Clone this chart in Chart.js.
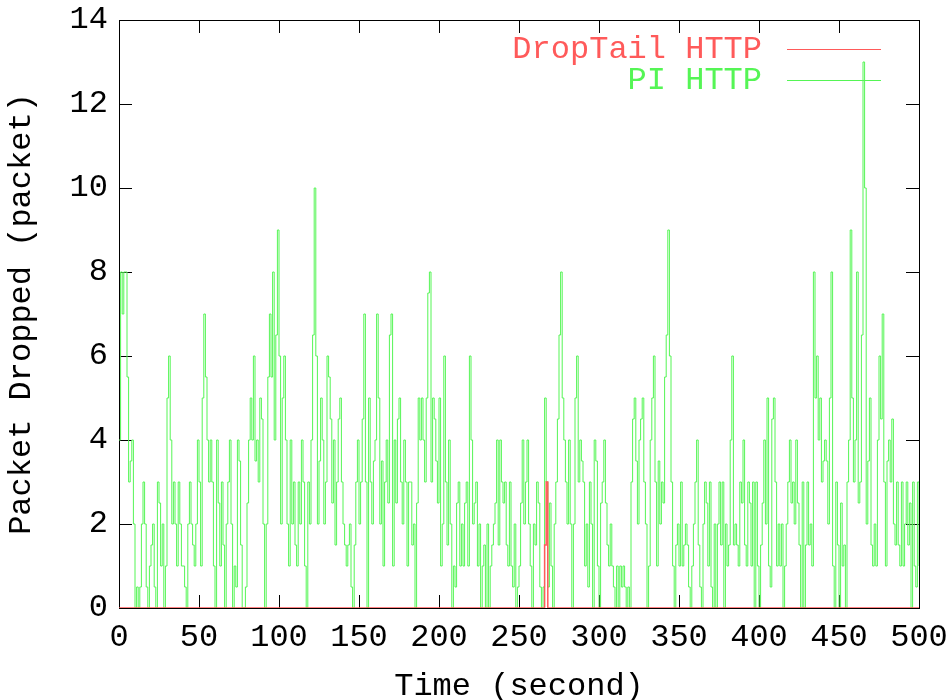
<!DOCTYPE html>
<html>
<head>
<meta charset="utf-8">
<script src="https://cdn.jsdelivr.net/npm/chart.js@4.4.1/dist/chart.umd.min.js"></script>
<style>
  html, body { margin: 0; padding: 0; background: #fff; }
</style>
</head>
<body>
<canvas id="chart" width="951" height="700"></canvas>
<script>
// PI HTTP: packets dropped, one sample per second (t = 0..500)
const piHttp = [
  4,8,7,8,8, 5.5,3,3.5,4,2, 0,0.5,0,0.5,2, 3,2,0.5,0,1, 1.5,2,0.5,0,3,2.5, 1,2,0,1, 5,6,4,2, 3,2,1,3, 2,1,1,0.5, 0,2,3, 2,1.5,1,2, 4,3,1, 5,7,5.5, 4,3,
  4,3,1,0, 4,2.5,1,3, 1.5,0,2,3,4, 2,0,1,0.5, 4,3.5,1.5,0,0, 0.5,2.5,4,5, 4,6,3.5,4, 3,5,4.5,2, 0,2,5.5,7, 5.5,8,4,6.5, 9,6,2,5, 6,4,2,1, 4,2,3,1.5, 1,3,2,4, 3,1,0,3,
  2,4,6.5,10, 6,2,3.5,5, 4,2,3,6,5.5, 4.5,2.5,4,1.5, 3,4.5,5,3, 2,1.5,1,1.5, 2,0.5,0,1.5, 3,4,2,3, 4.5,7,3,0,5, 3,2,3.5,4, 7,5,2,3.5, 1,3,4,2.5, 6.5,7,1,4, 2.5,4.5,5,3, 2,4,3,1,3,
  3,1.5,2,0, 2.5,5,4,5, 4,3,5,7.5, 8,3,5,4.5, 3.5,2.5,5,1,2, 6,3,1.5,4, 2,0,1,0.5, 2.5,3,1,2, 1,2.5,3,1, 6,4,2,2.5,3, 1,2,0,1, 1.5,0,2,0, 1,1.5,2,2.5, 4,1.5,4,3, 2.5,3,1.5,1,
  3,1,0.5,2, 0,0.5,1,2.5, 4,2,3,4,2, 1,0,2,1.5, 3,2.5,0.5,0, 0.5,5,3,0.5, 2.5,1,0,2, 3,4.5,6.5,8,5, 4,3,2,4, 2,0,2,5, 6,3,4,3.5, 3,1,2,0.5, 3,2,0,4, 3.5,1,0,2.5, 3,4,2.5,1.5,1,
  2,1,0.5,0, 1,0,1,0.5, 1,0.5,0,0.5, 0,3,4.5,5, 3.5,2,4,4.5,5, 3,2,0,1, 4,5,6,3, 1,3.5,2,3, 2.5,5.5,6.5,9, 6,3,1,0,1.5, 2,1,3,1, 1.5,2,1.5,0.5, 0,1,2,3, 4,1.5,0.5,0, 2,3,2.5,1,
  3,0.5,0,2, 0,2,3,1.5, 3,0,2,1,1.5, 4,6,1.5,2, 1.5,1,3,2.5, 4,1.5,1,3, 2.5,1,3,0, 3,1,0,1.5, 2.5,4,2,5,1, 0.5,4.5,5,3, 1,2,1,2, 0,1,2,3, 4,2.5,3,2, 4,2.5,1.5,0, 3,0,1.5,3,1.5,
  2,1,8,5, 6,4,5,3, 3.5,4,3.5,2, 5,8,1,0, 3,1.5,0,2.5,1, 1.5,0,3,4, 9,5,3,4, 8,2.5,3,6.5, 13,10,2,3.5, 5,1.5,1,2,1, 4,6,4.5,7, 3,1,3.5,4, 3,4.5,2,1.5, 3,1.5,1,3, 1,2,3,1.5,2.5, 0,3,1,0.5,3,1
];
const piTime = piHttp.map((_, i) => i);

// DropTail HTTP: zero except one short burst
const dropTailTime = [0, 266, 267, 268, 500];
const dropTailHttp = [0, 1.5, 3, 0, 0];

const xTicks = [0, 50, 100, 150, 200, 250, 300, 350, 400, 450, 500];
const yTicks = [0, 2, 4, 6, 8, 10, 12, 14];

const FONT = { family: "'Liberation Mono', 'DejaVu Sans Mono', monospace", size: 32, lineHeight: 1 };
const TICK_LEN = 13;

const framePlugin = {
  id: 'frame',
  beforeDatasetsDraw(chart) {
    const { ctx, chartArea: a, scales: { x, y } } = chart;
    ctx.save();
    ctx.strokeStyle = '#000';
    ctx.lineWidth = 1;
    ctx.beginPath();
    xTicks.forEach(v => {
      const px = Math.round(x.getPixelForValue(v)) + 0.5;
      ctx.moveTo(px, a.bottom); ctx.lineTo(px, a.bottom - TICK_LEN);
      ctx.moveTo(px, a.top); ctx.lineTo(px, a.top + TICK_LEN);
    });
    yTicks.forEach(v => {
      const py = Math.round(y.getPixelForValue(v)) + 0.5;
      ctx.moveTo(a.left, py); ctx.lineTo(a.left + TICK_LEN, py);
      ctx.moveTo(a.right, py); ctx.lineTo(a.right - TICK_LEN, py);
    });
    ctx.stroke();
    ctx.strokeRect(Math.round(a.left) + 0.5, Math.round(a.top) + 0.5,
      Math.round(a.right - a.left), Math.round(a.bottom - a.top));
    ctx.restore();
  }
};

const legendPlugin = {
  id: 'innerLegend',
  afterDraw(chart) {
    const { ctx, chartArea: a } = chart;
    ctx.save();
    ctx.font = `${FONT.size}px ${FONT.family}`;
    ctx.textAlign = 'right';
    ctx.textBaseline = 'middle';
    chart.data.datasets.forEach((ds, i) => {
      const yy = a.top + 29 + i * 31;
      const lineEnd = a.right - 38;
      const lineStart = lineEnd - 94;
      ctx.fillStyle = ds.borderColor;
      ctx.fillText(ds.label, lineStart - 25, yy + 1);
      ctx.strokeStyle = ds.borderColor;
      ctx.lineWidth = 1;
      ctx.beginPath();
      ctx.moveTo(lineStart, Math.round(yy) + 0.5);
      ctx.lineTo(lineEnd, Math.round(yy) + 0.5);
      ctx.stroke();
    });
    ctx.restore();
  }
};

new Chart(document.getElementById('chart'), {
  type: 'line',
  data: {
    datasets: [
      {
        label: 'DropTail HTTP',
        data: dropTailTime.map((t, i) => ({ x: t, y: dropTailHttp[i] })),
        borderColor: 'rgb(255,90,90)',
        borderWidth: 1.5,
        pointRadius: 0,
        stepped: true,
        fill: false
      },
      {
        label: 'PI HTTP',
        data: piTime.map((t, i) => ({ x: t, y: piHttp[i] })),
        borderColor: 'rgb(85,245,85)',
        borderWidth: 1,
        pointRadius: 0,
        stepped: true,
        fill: false
      }
    ]
  },
  options: {
    responsive: false,
    animation: false,
    devicePixelRatio: 1,
    layout: { padding: { left: 0, right: 32, top: 20, bottom: 0 } },
    plugins: { legend: { display: false }, tooltip: { enabled: false } },
    scales: {
      x: {
        type: 'linear', min: 0, max: 500,
        afterBuildTicks: s => { s.ticks = xTicks.map(v => ({ value: v })); },
        afterFit: s => { s.height = 92; s.paddingLeft = 0; s.paddingRight = 0; },
        grid: { display: false, drawTicks: false },
        border: { display: false },
        ticks: { color: '#000', font: FONT, padding: 14, maxRotation: 0, autoSkip: false },
        title: { display: true, text: 'Time (second)', color: '#000', font: FONT, padding: { top: 0, bottom: -3 } }
      },
      y: {
        type: 'linear', min: 0, max: 14,
        afterBuildTicks: s => { s.ticks = yTicks.map(v => ({ value: v })); },
        afterFit: s => { s.width = 119; s.paddingTop = 0; s.paddingBottom = 0; },
        grid: { display: false, drawTicks: false },
        border: { display: false },
        ticks: { color: '#000', font: FONT, padding: 11, autoSkip: false },
        title: { display: true, text: 'Packet Dropped (packet)', color: '#000', font: FONT, padding: { top: 6, bottom: 0 } }
      }
    }
  },
  plugins: [framePlugin, legendPlugin]
});
</script>
</body>
</html>
